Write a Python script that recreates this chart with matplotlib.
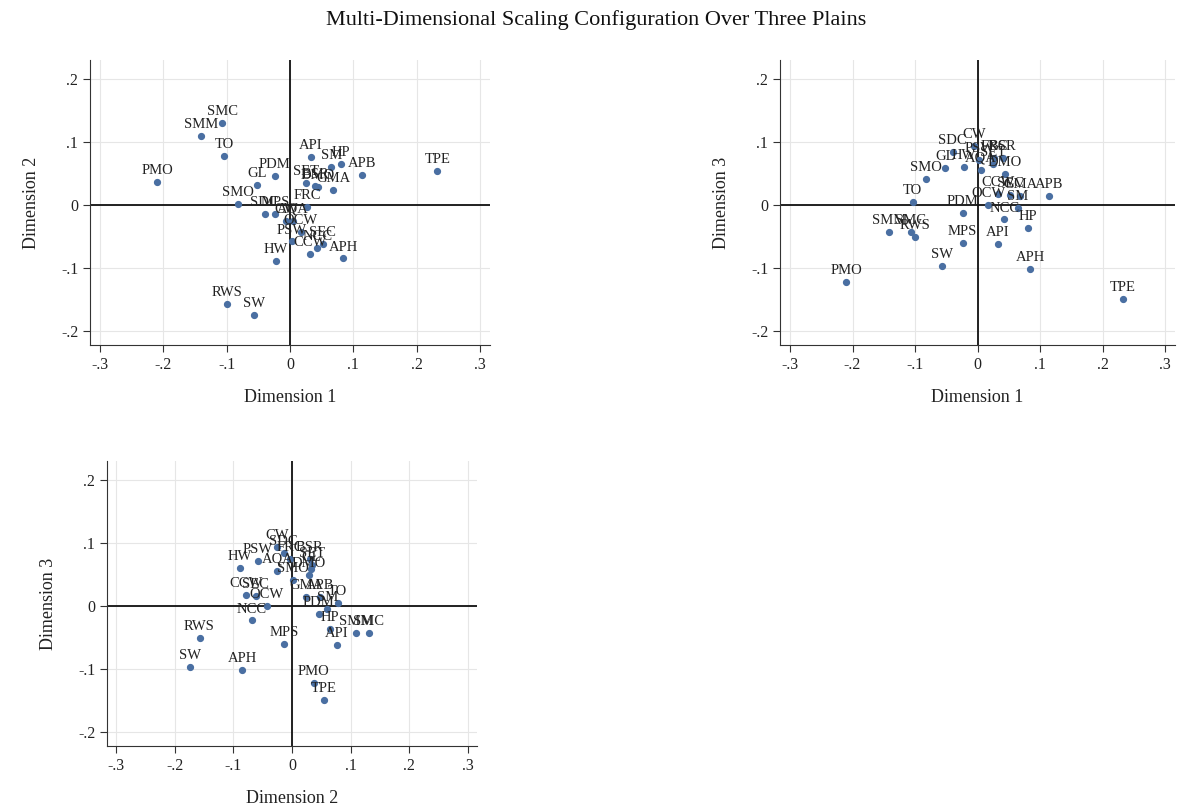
import matplotlib
matplotlib.use("Agg")
import matplotlib.pyplot as plt

# MDS coordinates for each site
labels = ["PMO", "SMC", "SMM", "TO", "GL", "PDM", "SMO", "SDC", "MPS", "HW",
          "RWS", "SW", "API", "SM", "HP", "APB", "APH", "TPE", "FRC", "GMA",
          "SET", "BSR", "DMO", "AQA", "CW", "PSW", "OCW", "NCC", "SEC", "CCW"]
dim1 = [-0.210, -0.107, -0.141, -0.104, -0.052, -0.024, -0.082, -0.040, -0.024, -0.022,
        -0.100, -0.057, 0.033, 0.065, 0.081, 0.114, 0.084, 0.233, 0.027, 0.068,
        0.025, 0.040, 0.044, 0.005, -0.006, 0.003, 0.017, 0.043, 0.052, 0.032]
dim2 = [0.037, 0.131, 0.110, 0.078, 0.032, 0.046, 0.002, -0.014, -0.014, -0.089,
        -0.158, -0.175, 0.077, 0.060, 0.065, 0.048, -0.085, 0.054, -0.003, 0.024,
        0.035, 0.030, 0.029, -0.025, -0.026, -0.058, -0.043, -0.069, -0.062, -0.078]
dim3 = [-0.123, -0.043, -0.043, 0.005, 0.059, -0.013, 0.041, 0.085, -0.061, 0.061,
        -0.051, -0.097, -0.062, -0.005, -0.037, 0.014, -0.102, -0.149, 0.075, 0.015,
        0.065, 0.075, 0.050, 0.056, 0.094, 0.072, 0.000, -0.023, 0.016, 0.017]

ticks = [-0.3, -0.2, -0.1, 0, 0.1, 0.2, 0.3]
xtick_labels = ["-.3", "-.2", "-.1", "0", ".1", ".2", ".3"]
yticks = [-0.2, -0.1, 0, 0.1, 0.2]
ytick_labels = ["-.2", "-.1", "0", ".1", ".2"]

plt.rcParams["font.family"] = ["Liberation Serif", "DejaVu Serif"]

W, H = 1193, 809
fig = plt.figure(figsize=(W / 100, H / 100), dpi=100)
fig.patch.set_facecolor("white")

dot_color = "#4a6fa2"


def add_panel(px_left, px_right, px_top, px_bottom, xs, ys, xlabel, ylabel):
    ax = fig.add_axes([px_left / W, 1 - px_bottom / H,
                       (px_right - px_left) / W, (px_bottom - px_top) / H])
    ax.set_xlim(-0.316, 0.316)
    ax.set_ylim(-0.223, 0.231)
    ax.set_xticks(ticks)
    ax.set_xticklabels(xtick_labels)
    ax.set_yticks(yticks)
    ax.set_yticklabels(ytick_labels)
    ax.grid(True, color="#e6e6e6", lw=0.8)
    ax.set_axisbelow(True)
    for side in ("top", "right"):
        ax.spines[side].set_visible(False)
    for side in ("left", "bottom"):
        ax.spines[side].set_color("#333333")
        ax.spines[side].set_linewidth(0.8)
    ax.tick_params(labelsize=11.5, length=5, width=0.8, color="#333333",
                   labelcolor="#222222")
    ax.axhline(0, color="#111111", lw=1.3, zorder=1)
    ax.axvline(0, color="#111111", lw=1.3, zorder=1)
    ax.plot(xs, ys, "o", color=dot_color, ms=4.2, mec=dot_color, zorder=3)
    for x, y, t in zip(xs, ys, labels):
        ax.annotate(t, (x, y), xytext=(0, 3.5), textcoords="offset points",
                    ha="center", va="bottom", fontsize=10.5, color="#222222",
                    zorder=4)
    ax.set_xlabel(xlabel, fontsize=13, color="#222222", labelpad=12)
    ax.set_ylabel(ylabel, fontsize=13, color="#222222", labelpad=15)
    return ax


add_panel(90, 490, 60, 345, dim1, dim2, "Dimension 1", "Dimension 2")
add_panel(780, 1175, 60, 345, dim1, dim3, "Dimension 1", "Dimension 3")
add_panel(107, 477, 461, 746, dim2, dim3, "Dimension 2", "Dimension 3")

fig.text(0.5, 1 - 20 / H, "Multi-Dimensional Scaling Configuration Over Three Plains",
         ha="center", va="center", fontsize=16, color="#111111")

fig.savefig("out.png", dpi=100, facecolor="white")
